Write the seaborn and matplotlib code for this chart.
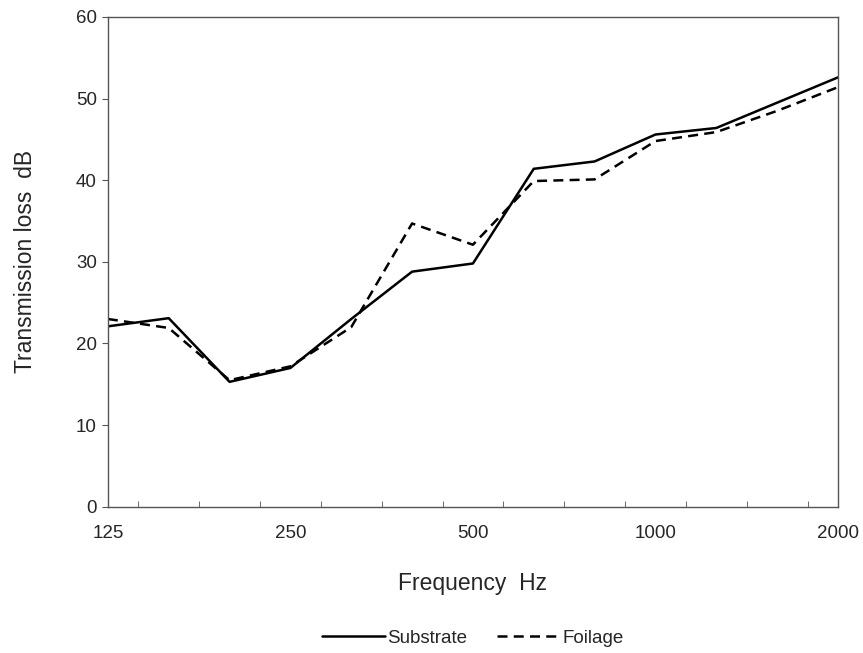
import numpy as np
import pandas as pd
import seaborn as sns
import matplotlib.pyplot as plt

# 1/3 倍频程中心频率
freqs = [125, 160, 200, 250, 315, 400, 500, 630, 800, 1000, 1250, 1600, 2000]
substrate = [22.1, 23.1, 15.3, 17.0, 23.0, 28.8, 29.8, 41.4, 42.3, 45.6, 46.4, 49.5, 52.6]
foilage = [23.0, 21.9, 15.5, 17.2, 22.0, 34.7, 32.1, 39.9, 40.1, 44.8, 45.9, 48.5, 51.4]
tick_freqs = [125, 250, 500, 1000, 2000]

df = pd.DataFrame({
    "idx": list(range(len(freqs))) * 2,
    "tl": substrate + foilage,
    "series": ["Substrate"] * len(freqs) + ["Foilage"] * len(freqs),
})

sns.set_style("ticks")
plt.rcParams['font.family'] = ['Liberation Sans', 'DejaVu Sans']

fig = plt.figure(figsize=(8.63, 6.53), dpi=100)
ax = fig.add_axes([0.125, 0.224, 0.846, 0.750])

sns.lineplot(data=df, x="idx", y="tl", style="series", color="black",
             dashes={"Substrate": "", "Foilage": (4, 2.5)}, linewidth=1.8, ax=ax)

ax.set_xlim(0, len(freqs) - 1)
ax.set_ylim(0, 60)
ax.set_xticks([freqs.index(f) for f in tick_freqs])
ax.set_xticklabels([str(f) for f in tick_freqs], fontsize=13.5)
ax.set_xticks(np.arange(0.5, len(freqs) - 1, 1), minor=True)
ax.tick_params(axis="x", which="major", length=0, pad=13)
ax.tick_params(axis="x", which="minor", length=4, direction="in", color="#555555")
ax.set_yticks(range(0, 61, 10))
ax.tick_params(axis="y", labelsize=13.5, length=4, color="#555555", pad=4)
for s in ax.spines.values():
    s.set_color("#555555")
    s.set_linewidth(1.0)

ax.set_xlabel("Frequency  Hz", fontsize=16.5, labelpad=22)
ax.set_ylabel("Transmission loss  dB", fontsize=16.5, labelpad=28)

handles, labels = ax.get_legend_handles_labels()
ax.legend(handles, labels, loc="center", bbox_to_anchor=(0.5, -0.268), ncol=2,
          frameon=False, fontsize=13.5, handlelength=3.4, handletextpad=0.1, columnspacing=1.6)

fig.savefig("out.png", dpi=100)
